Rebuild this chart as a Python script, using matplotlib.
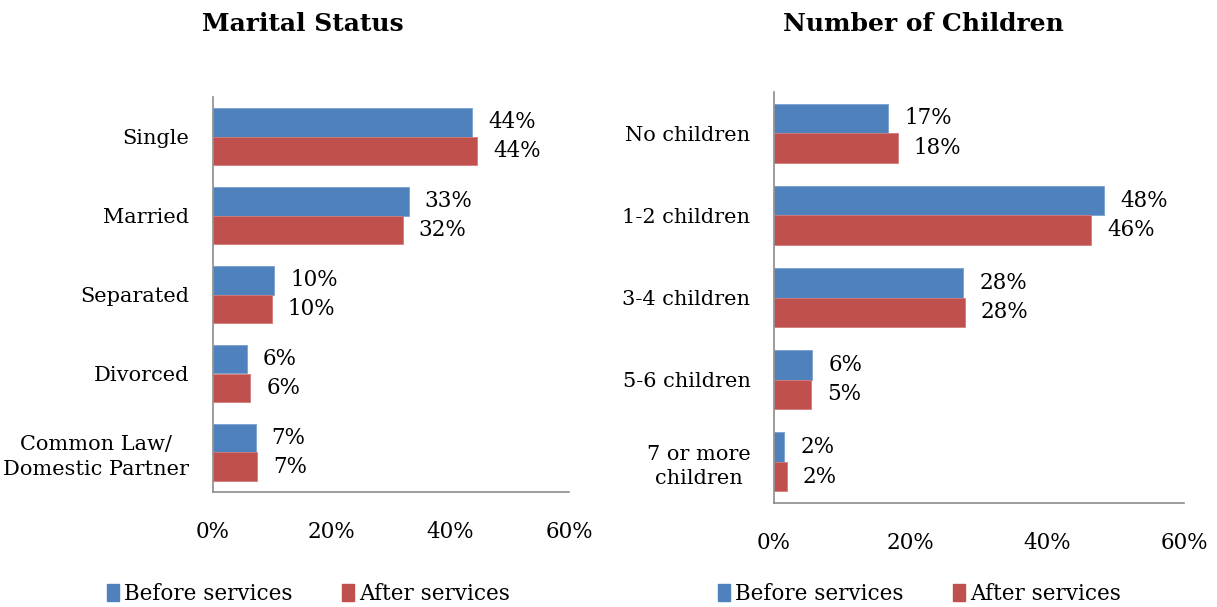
import numpy as np
import matplotlib
matplotlib.use('Agg')
import matplotlib.pyplot as plt
import matplotlib.patches as patches

plt.rcParams['font.family'] = ['DejaVu Serif']

# data
marital_cats = ['Single', 'Married', 'Separated', 'Divorced', 'Common Law/\nDomestic Partner']
marital_before = [43.7, 33.0, 10.3, 5.7, 7.2]
marital_after = [44.5, 32.0, 9.9, 6.3, 7.4]
marital_before_lbl = ['44%', '33%', '10%', '6%', '7%']
marital_after_lbl = ['44%', '32%', '10%', '6%', '7%']

child_cats = ['No children', '1-2 children', '3-4 children', '5-6 children', '7 or more\nchildren']
child_before = [16.7, 48.3, 27.7, 5.6, 1.5]
child_after = [18.1, 46.4, 27.9, 5.4, 1.9]
child_before_lbl = ['17%', '48%', '28%', '6%', '2%']
child_after_lbl = ['18%', '46%', '28%', '5%', '2%']

xticks = [0, 20, 40, 60]
xtick_labels = ['0%', '20%', '40%', '60%']

BLUE = '#4F81BD'
RED = '#C0504D'
SPINE = '#8c8c8c'
W, H = 1217, 607
FS = 15


def px_axes(fig, x0, x1, y0, y1):
    return fig.add_axes([x0 / W, 1 - y1 / H, (x1 - x0) / W, (y1 - y0) / H])


def draw_panel(ax, cats, before, after, blbl, albl):
    y = np.arange(len(cats))
    h = 0.36
    ax.barh(y - h / 2, before, height=h, color=BLUE, edgecolor='#7aa0d0', linewidth=0.6)
    ax.barh(y + h / 2, after, height=h, color=RED, edgecolor='#d27d7a', linewidth=0.6)
    for i in range(len(cats)):
        ax.annotate(blbl[i], (before[i], y[i] - h / 2), xytext=(11.5, 0),
                    textcoords='offset points', ha='left', va='center', fontsize=FS + 0.5)
        ax.annotate(albl[i], (after[i], y[i] + h / 2), xytext=(11.5, 0),
                    textcoords='offset points', ha='left', va='center', fontsize=FS + 0.5)
    ax.set_ylim(len(cats) - 0.5, -0.5)
    ax.set_xlim(0, 60)
    ax.set_yticks(y)
    ax.set_yticklabels(cats, fontsize=FS)
    for t in ax.get_yticklabels():
        t.set_multialignment('center')
        t.set_linespacing(1.35)
    ax.set_xticks(xticks)
    ax.set_xticklabels(xtick_labels, fontsize=FS + 0.5)
    ax.tick_params(axis='y', length=0, pad=17)
    ax.tick_params(axis='x', length=0, pad=21)
    for s in ['top', 'right']:
        ax.spines[s].set_visible(False)
    for s in ['left', 'bottom']:
        ax.spines[s].set_color(SPINE)
        ax.spines[s].set_linewidth(1.2)


fig = plt.figure(figsize=(W / 100, H / 100), dpi=100)

ax1 = px_axes(fig, 213, 569, 97, 492)
draw_panel(ax1, marital_cats, marital_before, marital_after, marital_before_lbl, marital_after_lbl)
ax2 = px_axes(fig, 774, 1184, 92, 503)
draw_panel(ax2, child_cats, child_before, child_after, child_before_lbl, child_after_lbl)

fig.text(303 / W, 1 - 24 / H, 'Marital Status', ha='center', va='center',
         fontsize=18, fontweight='bold')
fig.text(923 / W, 1 - 24 / H, 'Number of Children', ha='center', va='center',
         fontsize=18, fontweight='bold')

handles = [patches.Patch(color=BLUE, label='Before services'),
           patches.Patch(color=RED, label='After services')]
for x0 in [107, 718]:
    fig.legend(handles=handles, loc='center left', bbox_to_anchor=(x0 / W, 1 - 594 / H),
               ncol=2, frameon=False, fontsize=FS + 0.5, handlelength=0.55, handleheight=0.8,
               handletextpad=0.25, columnspacing=2.3, borderaxespad=0, borderpad=0)

fig.savefig('out.png', dpi=100)
